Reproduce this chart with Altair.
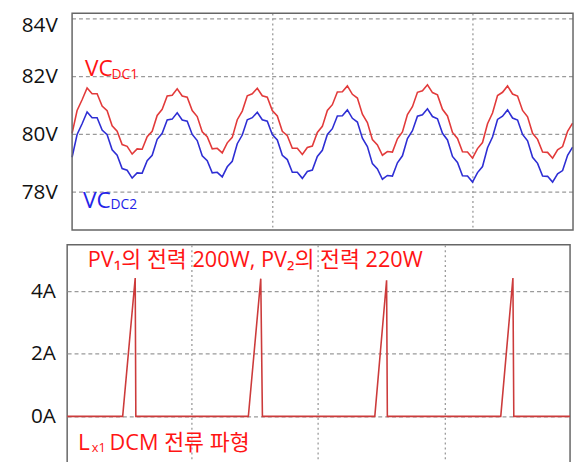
import altair as alt
import pandas as pd

# ---------------- top panel: capacitor voltages (V), one sample every 0.25 ms ----------------
dt_ms = 0.25
vc_dc1 = [80.04, 80.83, 81.20, 81.61, 81.41, 81.41, 80.98, 80.82, 80.30, 80.11,
          79.65, 79.59, 79.32, 79.50, 79.49, 79.92, 80.11, 80.66, 80.87, 81.33,
          81.36, 81.58, 81.33, 81.29, 80.83, 80.62, 80.09, 79.92, 79.50, 79.52,
          79.36, 79.71, 79.90, 80.51, 80.81, 81.34, 81.41, 81.60, 81.34, 81.29,
          80.83, 80.64, 80.11, 79.96, 79.52, 79.52, 79.31, 79.55, 79.60, 80.07,
          80.28, 80.83, 81.03, 81.47, 81.48, 81.68, 81.39, 81.26, 80.70, 80.41,
          79.82, 79.64, 79.28, 79.41, 79.39, 79.85, 80.09, 80.69, 80.96, 81.46,
          81.51, 81.72, 81.45, 81.37, 80.87, 80.64, 80.07, 79.86, 79.40, 79.39,
          79.18, 79.51, 79.72, 80.37, 80.74, 81.35, 81.46, 81.68, 81.40, 81.33,
          80.83, 80.61, 80.04, 79.83, 79.39, 79.38, 79.18, 79.47, 79.58, 80.11,
          80.39]
vc_dc2 = [79.21, 80.00, 80.37, 80.78, 80.58, 80.58, 80.15, 79.99, 79.47, 79.28,
          78.82, 78.76, 78.49, 78.67, 78.66, 79.09, 79.28, 79.83, 80.04, 80.50,
          80.53, 80.75, 80.50, 80.46, 80.00, 79.79, 79.26, 79.09, 78.67, 78.69,
          78.53, 78.88, 79.07, 79.68, 79.98, 80.51, 80.58, 80.77, 80.51, 80.46,
          80.00, 79.81, 79.28, 79.13, 78.69, 78.69, 78.48, 78.72, 78.77, 79.24,
          79.45, 80.00, 80.20, 80.64, 80.65, 80.85, 80.56, 80.43, 79.87, 79.58,
          78.99, 78.81, 78.45, 78.58, 78.56, 79.02, 79.26, 79.86, 80.13, 80.63,
          80.68, 80.89, 80.62, 80.54, 80.04, 79.81, 79.24, 79.03, 78.57, 78.56,
          78.35, 78.68, 78.89, 79.54, 79.91, 80.52, 80.63, 80.85, 80.57, 80.50,
          80.00, 79.78, 79.21, 79.00, 78.56, 78.55, 78.35, 78.64, 78.75, 79.28,
          79.56]
v_ticks = [78, 80, 82, 84]
top_grid_t = [10, 20]
top_t_range = [0, 25.02]
top_v_range = [76.69, 84.2]

# ---------------- bottom panel: inductor current Lx1 (A) ----------------
il_t = [0.2, 4.58, 5.57, 5.62, 14.50, 15.48, 15.61, 24.48, 25.41, 25.47,
        34.42, 35.38, 35.45, 39.89]
il_a = [0, 0, 4.42, 0, 0, 4.40, 0, 0, 4.35, 0, 0, 4.42, 0, 0]
a_ticks = [0, 2, 4]
bot_grid_t = [10, 20, 30]

FONT = "Open Sans, Noto Sans CJK KR"
GRID = "#9a9a9a"
FRAME = "#666666"
RED_LINE = "#e23a3a"
BLUE_LINE = "#2e2ed4"
RED_TXT = "#ff1414"
BLUE_TXT = "#2424e8"

n = len(vc_dc1)
t_ms = [round(i * dt_ms, 2) for i in range(n)]
vdf = pd.DataFrame({"t": t_ms + t_ms, "v": vc_dc1 + vc_dc2,
                    "s": ["VCDC1"] * n + ["VCDC2"] * n})

x_top = alt.X("t:Q", scale=alt.Scale(domain=[-0.246, top_t_range[1]], nice=False, zero=False),
              axis=alt.Axis(values=top_grid_t, labels=False, ticks=False, domain=False,
                            title=None, grid=True, gridColor=GRID, gridDash=[2, 3],
                            gridWidth=1.3))
y_top = alt.Y("v:Q", scale=alt.Scale(domain=top_v_range, nice=False, zero=False),
              axis=alt.Axis(values=v_ticks, labelExpr="datum.value + 'V'", ticks=False,
                            domain=False, title=None, grid=False, labelPadding=10,
                            labelFlush=7, labelFlushOffset=4.6,
                            minExtent=59, maxExtent=59))

top_lines = alt.Chart(vdf).mark_line(strokeWidth=1.6, clip=True).encode(
    x=x_top, y=y_top,
    color=alt.Color("s:N", scale=alt.Scale(domain=["VCDC1", "VCDC2"],
                                           range=[RED_LINE, BLUE_LINE]), legend=None),
    detail="s:N",
)

hgrid_df = pd.DataFrame({"v": v_ticks, "t0": [top_t_range[0]] * len(v_ticks),
                         "t1": [top_t_range[1]] * len(v_ticks)})
top_hgrid = alt.Chart(hgrid_df).mark_rule(color=GRID, strokeDash=[4, 3], strokeWidth=1.3).encode(
    x="t0:Q", x2="t1:Q", y="v:Q")

frame_df = pd.DataFrame({"t0": [top_t_range[0]], "t1": [top_t_range[1]],
                         "v0": [top_v_range[0]], "v1": [top_v_range[1]]})
top_frame = alt.Chart(frame_df).mark_rect(fillOpacity=0, stroke=FRAME, strokeWidth=1.5).encode(
    x="t0:Q", x2="t1:Q", y="v0:Q", y2="v1:Q")

top_txt = pd.DataFrame({
    "t": [0.64, 1.97, 0.54, 1.92],
    "v": [82.01, 81.92, 77.46, 77.41],
    "txt": ["VC", "DC1", "VC", "DC2"],
    "c": [RED_TXT, RED_TXT, BLUE_TXT, BLUE_TXT],
    "sz": [23, 14, 23, 14],
})
top_labels = alt.Chart(top_txt).mark_text(align="left", baseline="alphabetic", font=FONT).encode(
    x="t:Q", y="v:Q", text="txt:N",
    color=alt.Color("c:N", scale=None), size=alt.Size("sz:Q", scale=None))

top = alt.layer(top_hgrid, top_lines, top_labels, top_frame).properties(
    width=513, height=220, view=alt.ViewBackground(strokeOpacity=0))

# bottom
idf = pd.DataFrame({"t": il_t, "a": il_a})
x_bot = alt.X("t:Q", scale=alt.Scale(domain=[0.2, 39.89], nice=False, zero=False),
              axis=alt.Axis(values=bot_grid_t, labels=False, ticks=False, domain=False,
                            title=None, grid=True, gridColor=GRID, gridDash=[2, 3],
                            gridWidth=1.3))
y_bot = alt.Y("a:Q", scale=alt.Scale(domain=[-1.64, 5.48], nice=False, zero=False),
              axis=alt.Axis(values=a_ticks, labelExpr="datum.value + 'A'", ticks=False,
                            domain=False, title=None, grid=True, gridColor=GRID,
                            gridDash=[4, 3], gridWidth=1.3, labelPadding=12,
                            minExtent=59, maxExtent=59))
bot_line = alt.Chart(idf).mark_line(strokeWidth=1.6, color="#cc3b3b", clip=True).encode(
    x=x_bot, y=y_bot)

bot_txt = pd.DataFrame({
    "t": [1.83, 1.06, 2.15, 3.55],
    "a": [4.77, -1.06, -1.13, -1.06],
    "txt": ["PV₁의 전력 200W, PV₂의 전력 220W", "L", "x1", "DCM 전류 파형"],
    "sz": [22, 23, 13, 22],
})
bot_labels = alt.Chart(bot_txt).mark_text(align="left", baseline="alphabetic", font=FONT,
                                          color=RED_TXT).encode(
    x="t:Q", y="a:Q", text="txt:N", size=alt.Size("sz:Q", scale=None))

bot = alt.layer(bot_line, bot_labels).properties(width=510, height=226)

chart = alt.vconcat(top, bot, spacing=13).properties(
    padding={"top": 1, "left": 0, "right": 0, "bottom": -10}
).configure_view(stroke=FRAME, strokeWidth=1.5).configure_axis(
    labelFont=FONT, labelFontSize=21, labelColor="#111111"
)

chart.save("out.html", embed_options={"renderer": "svg", "actions": False})
